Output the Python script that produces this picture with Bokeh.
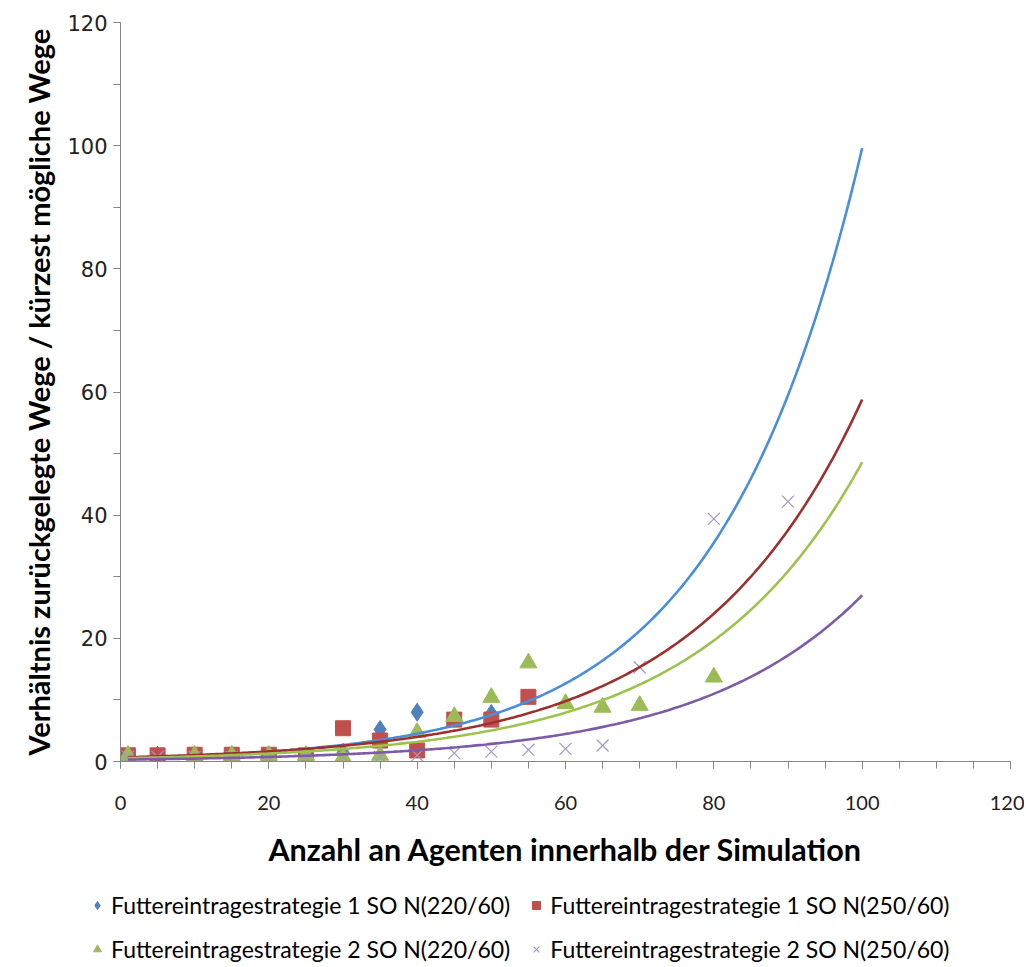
import numpy as np
from bokeh.plotting import figure
from bokeh.layouts import column
from bokeh.models import FixedTicker, Legend, LegendItem, Range1d
from bokeh.embed import file_html
from bokeh.resources import INLINE

# ---- data ----
x_s1 = [1, 5, 10, 15, 20, 25, 30, 35, 40, 45, 50]
y_s1 = [1.0, 1.0, 1.0, 1.0, 1.0, 1.0, 1.5, 5.2, 8.0, 7.0, 7.8]

x_s2 = [1, 5, 10, 15, 20, 25, 30, 35, 40, 45, 50, 55]
y_s2 = [1.0, 1.0, 1.1, 1.1, 1.1, 1.0, 5.4, 3.4, 1.8, 6.8, 6.8, 10.5]

x_s3 = [1, 10, 15, 20, 25, 30, 35, 40, 45, 50, 55, 60, 65, 70, 80]
y_s3 = [1.0, 1.0, 1.0, 1.0, 1.0, 0.7, 1.0, 4.7, 7.3, 10.4, 16.0, 9.4, 8.8, 9.1, 13.7]

x_s4 = [1, 5, 10, 15, 20, 25, 30, 35, 40, 45, 50, 55, 60, 65, 70, 80, 90]
y_s4 = [0.75, 0.75, 0.75, 0.75, 0.75, 0.75, 0.75, 0.75, 1.0, 1.35, 1.6, 1.9, 2.05, 2.6, 15.3, 39.4, 42.2]

labels = ["Futtereintragestrategie 1 SO N(220/60)",
          "Futtereintragestrategie 1 SO N(250/60)",
          "Futtereintragestrategie 2 SO N(220/60)",
          "Futtereintragestrategie 2 SO N(250/60)"]

x_ticks = [0, 20, 40, 60, 80, 100, 120]
y_ticks = [0, 20, 40, 60, 80, 100, 120]
trend_end = 100

p = figure(frame_width=890, frame_height=739, output_backend="svg", toolbar_location=None,
           x_range=Range1d(0, 120), y_range=Range1d(0, 120),
           min_border_left=120, min_border_top=22, min_border_right=14, min_border_bottom=118,
           background_fill_color="white", border_fill_color="white")
p.outline_line_color = None
p.grid.visible = False

marker_colors = ["#4F81BD", "#C0504D", "#9BBB59", "#A497C9"]
line_colors = ["#4A8EDB", "#9E2F2C", "#9DC34E", "#7E5BA8"]
marker_styles = [dict(marker="diamond", size=18, color=marker_colors[0]),
                 dict(marker="square", size=15, color=marker_colors[1]),
                 dict(marker="triangle", size=17, color=marker_colors[2]),
                 dict(marker="x", size=17, line_color=marker_colors[3], line_width=1.2)]

def trend(xs, ys):
    b, lna = np.polyfit(np.array(xs, float), np.log(np.array(ys, float)), 1)
    xx = np.linspace(1, trend_end, 300)
    return xx, np.exp(lna) * np.exp(b * xx)

series = [(x_s1, y_s1), (x_s2, y_s2), (x_s3, y_s3), (x_s4, y_s4)]
for (xs, ys), st in zip(series, marker_styles):
    p.scatter(xs, ys, **st)

for (xs, ys), c in zip(series, line_colors):
    xx, yy = trend(xs, ys)
    p.line(xx, yy, line_color=c, line_width=2.6)

for ax in (p.xaxis[0], p.yaxis[0]):
    ax.axis_line_color = "#868686"
    ax.major_tick_line_color = "#868686"
    ax.minor_tick_line_color = "#868686"
    ax.major_tick_in = 0
    ax.minor_tick_in = 0
    ax.major_tick_out = 7
    ax.minor_tick_out = 7
    ax.major_label_text_color = "#222222"
    ax.axis_label_text_color = "black"
    ax.axis_label_text_font = "Lato"
    ax.axis_label_text_font_style = "bold"

p.xaxis.ticker = FixedTicker(ticks=x_ticks, minor_ticks=list(range(0, 121, 5)))
p.yaxis.ticker = FixedTicker(ticks=y_ticks, minor_ticks=list(range(0, 121, 10)))
p.xaxis.major_label_text_font = "Lato"
p.xaxis.major_label_text_font_size = "20px"
p.xaxis.major_label_standoff = 27
p.yaxis.major_label_text_font = "DejaVu Sans"
p.yaxis.major_label_text_font_size = "21px"
p.yaxis.major_label_standoff = 6
p.xaxis.axis_label = "Anzahl an Agenten innerhalb der Simulation"
p.yaxis.axis_label = "Verhältnis zurückgelegte Wege / kürzest mögliche Wege"
p.xaxis.axis_label_text_font_size = "30.5px"
p.yaxis.axis_label_text_font_size = "29px"
p.xaxis.axis_label_standoff = 18
p.yaxis.axis_label_standoff = 8

# ---- legend in a separate strip below the chart (series drawn off-screen) ----
p2 = figure(width=1024, height=88, output_backend="svg", toolbar_location=None,
            x_axis_type=None, y_axis_type=None, min_border=0,
            x_range=Range1d(200, 201), y_range=Range1d(200, 201),
            background_fill_color="white", border_fill_color="white")
p2.outline_line_color = None
p2.grid.visible = False
leg_r = [p2.scatter(xs, ys, **st) for (xs, ys), st in zip(series, marker_styles)]

legend = Legend(items=[LegendItem(label=labels[0], renderers=[leg_r[0]]),
                       LegendItem(label=labels[2], renderers=[leg_r[2]]),
                       LegendItem(label=labels[1], renderers=[leg_r[1]]),
                       LegendItem(label=labels[3], renderers=[leg_r[3]])],
                ncols=2, location=(87, 4),
                label_text_font="Lato", label_text_font_size="23px",
                label_text_color="black", border_line_color=None,
                background_fill_alpha=0, glyph_width=20, glyph_height=20,
                spacing=16, label_standoff=4, padding=0, margin=0,
                label_height=24)
p2.add_layout(legend)

layout = column(p, column(p2, spacing=0), spacing=0)
open("out.html", "w").write(file_html(layout, INLINE))
